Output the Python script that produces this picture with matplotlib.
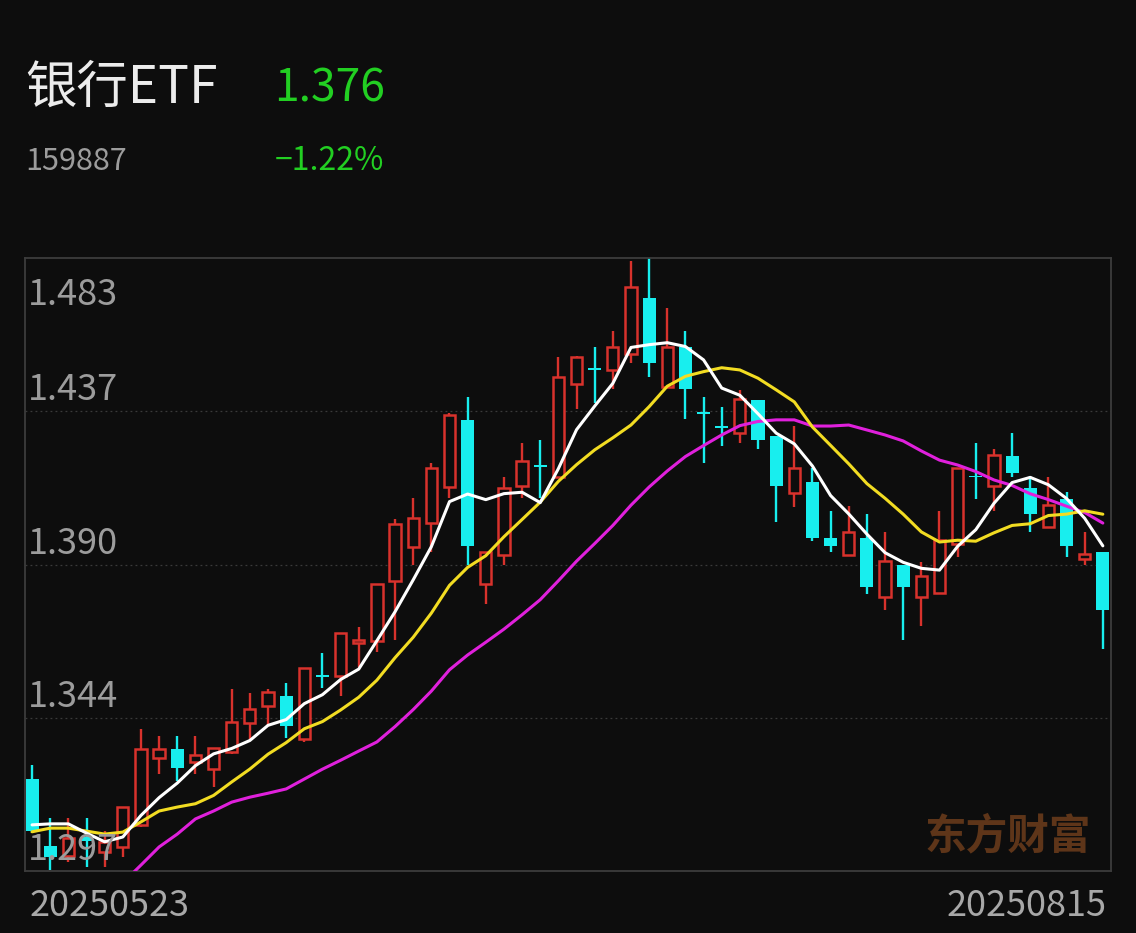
import numpy as np
import pandas as pd
import matplotlib
matplotlib.use("Agg")
import matplotlib.pyplot as plt
from matplotlib.patches import Rectangle
import matplotlib.transforms as mtransforms

plt.rcParams['font.family'] = ['Noto Sans CJK SC', 'DejaVu Sans']

# ---------------- data ----------------
name = "银行ETF"
code = "159887"
last_price = "1.376"
change_pct = "−1.22%"
start_date = "20250523"
end_date = "20250815"

opens = [1.3249, 1.3046, 1.3016, 1.3073, 1.3028, 1.3043, 1.3110, 1.3312, 1.3340, 1.3300,
         1.3279, 1.3331, 1.3418, 1.3470, 1.3500, 1.3370, 1.3564, 1.3561, 1.3661, 1.3667,
         1.3849, 1.3952, 1.4027, 1.4136, 1.4339, 1.3840, 1.3930, 1.4139, 1.4203, 1.4167,
         1.4448, 1.4497, 1.4491, 1.4539, 1.4709, 1.4439, 1.4560, 1.4364, 1.4321, 1.4300,
         1.4400, 1.4291, 1.4118, 1.4151, 1.3979, 1.3930, 1.3979, 1.3800, 1.3900, 1.3800,
         1.3815, 1.3961, 1.4170, 1.4139, 1.4230, 1.4133, 1.4015, 1.4100, 1.3918, 1.3939]
highs = [1.3291, 1.3131, 1.3131, 1.3131, 1.3091, 1.3164, 1.3400, 1.3379, 1.3379, 1.3379,
         1.3343, 1.3521, 1.3509, 1.3521, 1.3540, 1.3585, 1.3631, 1.3691, 1.3709, 1.3840,
         1.4039, 1.4103, 1.4209, 1.4360, 1.4409, 1.3939, 1.4167, 1.4270, 1.4279, 1.4530,
         1.4533, 1.4560, 1.4609, 1.4821, 1.4833, 1.4679, 1.4609, 1.4409, 1.4379, 1.4430,
         1.4400, 1.4291, 1.4321, 1.4194, 1.4061, 1.4079, 1.4052, 1.4000, 1.3900, 1.3909,
         1.4061, 1.4194, 1.4270, 1.4251, 1.4300, 1.4170, 1.4164, 1.4121, 1.4000, 1.3939]
lows = [1.3085, 1.2973, 1.2997, 1.2982, 1.2982, 1.3013, 1.3103, 1.3264, 1.3243, 1.3264,
        1.3225, 1.3325, 1.3370, 1.3409, 1.3373, 1.3361, 1.3525, 1.3500, 1.3588, 1.3634,
        1.3670, 1.3900, 1.3939, 1.4103, 1.3900, 1.3779, 1.3900, 1.4103, 1.4103, 1.4164,
        1.4373, 1.4391, 1.4433, 1.4512, 1.4470, 1.4436, 1.4342, 1.4209, 1.4261, 1.4270,
        1.4251, 1.4030, 1.4073, 1.3970, 1.3939, 1.3930, 1.3812, 1.3761, 1.3670, 1.3712,
        1.3812, 1.3924, 1.4100, 1.4061, 1.4164, 1.4000, 1.4012, 1.3924, 1.3900, 1.3643]
closes = [1.3091, 1.3013, 1.3070, 1.3061, 1.3058, 1.3164, 1.3340, 1.3340, 1.3282, 1.3322,
          1.3343, 1.3422, 1.3461, 1.3512, 1.3409, 1.3585, 1.3558, 1.3691, 1.3670, 1.3840,
          1.4024, 1.4042, 1.4194, 1.4354, 1.3955, 1.3939, 1.4133, 1.4215, 1.4197, 1.4470,
          1.4530, 1.4491, 1.4560, 1.4742, 1.4512, 1.4560, 1.4433, 1.4357, 1.4315, 1.4403,
          1.4279, 1.4139, 1.4194, 1.3979, 1.3955, 1.4000, 1.3833, 1.3912, 1.3833, 1.3864,
          1.3973, 1.4194, 1.4164, 1.4233, 1.4179, 1.4052, 1.4082, 1.3955, 1.3933, 1.3761]

ma5_head = [1.3110, 1.3113, 1.3113, 1.3085]
ma10_head = [1.3089, 1.3100, 1.3100, 1.3091, 1.3082, 1.3088, 1.3119, 1.3152, 1.3164]
ma20_head = [np.nan, np.nan, np.nan, np.nan, np.nan, 1.2934, 1.2988, 1.3043, 1.3082, 1.3128,
             1.3152, 1.3179, 1.3194, 1.3206, 1.3219, 1.3249, 1.3279, 1.3306, 1.3334]

y_ticks = [1.483, 1.4365, 1.390, 1.3435, 1.297]
y_tick_labels = ["1.483", "1.437", "1.390", "1.344", "1.297"]

# ---------------- styles ----------------
BG = "#0d0d0d"
UP = "#d8322c"
DOWN = "#18eeee"
GRID = "#3a3a3a"
FRAME = "#3c3c3c"
TXT_GREY = "#9c9c9c"
GREEN = "#22cf22"

W, H = 1136, 933
fig = plt.figure(figsize=(W / 100, H / 100), dpi=100, facecolor=BG)
ax = fig.add_axes([25 / W, 1 - 871 / H, (1111 - 25) / W, (871 - 258) / H])
ax.set_facecolor(BG)

n = len(closes)
x = np.arange(n)
c = pd.Series(closes)
ma5 = c.rolling(5).mean().to_numpy()
ma10 = c.rolling(10).mean().to_numpy()
ma20 = c.rolling(20).mean().to_numpy()
ma5[:len(ma5_head)] = ma5_head
ma10[:len(ma10_head)] = ma10_head
ma20[:len(ma20_head)] = ma20_head

ax.set_xlim(-0.39, 59.45)
ax.set_ylim(1.297, 1.483)

# grid lines
for yv in y_ticks[1:-1]:
    ax.axhline(yv, color=GRID, lw=0.9, ls=(0, (1.5, 2.5)), zorder=1)

bw = 0.72
min_h = 0.0006
for i in range(n):
    o, h, l, cl = opens[i], highs[i], lows[i], closes[i]
    top, bot = max(o, cl), min(o, cl)
    if top - bot < min_h:
        mid = (top + bot) / 2
        top, bot = mid + min_h / 2, mid - min_h / 2
    if cl >= o:
        col = UP
        ax.vlines(i, top, h, color=col, lw=1.7, zorder=2)
        ax.vlines(i, l, bot, color=col, lw=1.7, zorder=2)
        ax.add_patch(Rectangle((i - bw / 2 + 0.05, bot), bw - 0.1, top - bot,
                               facecolor=BG, edgecolor=col, lw=1.8, zorder=3))
    else:
        col = DOWN
        ax.vlines(i, l, h, color=col, lw=1.7, zorder=2)
        ax.add_patch(Rectangle((i - bw / 2, bot), bw, top - bot,
                               facecolor=col, edgecolor='none', zorder=3))

ax.plot(x, ma20, color="#e020dc", lw=2.2, zorder=4, solid_capstyle='round')
ax.plot(x, ma10, color="#f2dc22", lw=2.2, zorder=5, solid_capstyle='round')
ax.plot(x, ma5, color="#ffffff", lw=2.2, zorder=6, solid_capstyle='round')

ax.set_xticks([])
ax.set_yticks([])
for s in ax.spines.values():
    s.set_color(FRAME)
    s.set_linewidth(1.3)

# y labels inside the plot
for k, (yv, lab) in enumerate(zip(y_ticks, y_tick_labels)):
    if k == 0:
        off = mtransforms.offset_copy(ax.transData, fig=fig, x=3, y=-19, units='dots')
        va = 'top'
    else:
        off = mtransforms.offset_copy(ax.transData, fig=fig, x=3, y=3, units='dots')
        va = 'bottom'
    ax.text(-0.39, yv, lab, transform=off, ha='left', va=va,
            color=TXT_GREY, fontsize=26, zorder=7)

# watermark
fig.text(1008 / W, 1 - 836 / H, "东方财富", ha='center', va='center',
         color="#5e3519", fontsize=30, fontweight='bold', zorder=0.5)

# header texts
fig.text(25 / W, 1 - 88 / H, name, ha='left', va='center', color="#ececec", fontsize=37)
fig.text(274 / W, 1 - 88 / H, last_price, ha='left', va='center', color=GREEN, fontsize=32)
fig.text(25 / W, 1 - 161 / H, code, ha='left', va='center', color=TXT_GREY, fontsize=22)
fig.text(275 / W, 1 - 161 / H, change_pct, ha='left', va='center', color=GREEN, fontsize=23)

# x labels
fig.text(30 / W, 1 - 906 / H, start_date, ha='left', va='center', color="#a8a8a8", fontsize=26)
fig.text(1107 / W, 1 - 906 / H, end_date, ha='right', va='center', color="#a8a8a8", fontsize=26)

fig.savefig("out.png", dpi=100, facecolor=BG)
